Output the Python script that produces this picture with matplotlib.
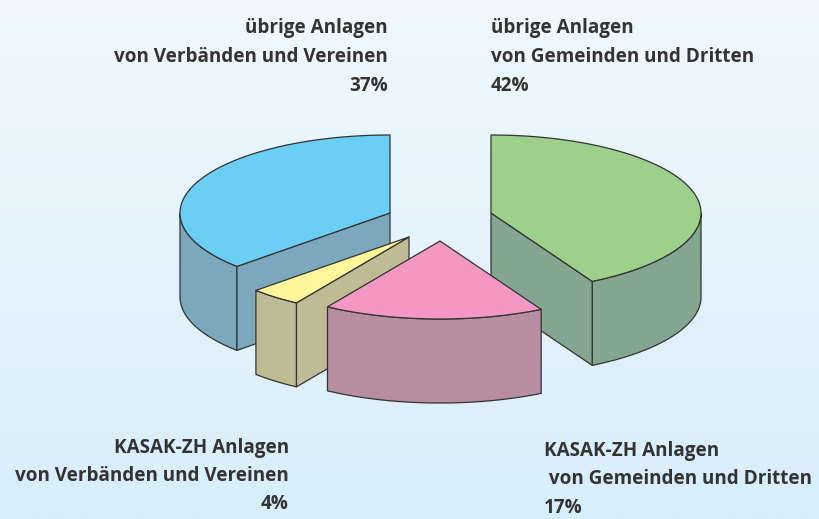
import numpy as np
import matplotlib.pyplot as plt
from matplotlib.patches import Polygon
from matplotlib.colors import LinearSegmentedColormap

# slices clockwise from 12 o'clock
names = ["übrige Anlagen\nvon Gemeinden und Dritten",
         "KASAK-ZH Anlagen\n von Gemeinden und Dritten",
         "KASAK-ZH Anlagen\nvon Verbänden und Vereinen",
         "übrige Anlagen\nvon Verbänden und Vereinen"]
shares = [42, 17, 4, 37]

top_cols = ["#9dd18b", "#f497c2", "#fff59b", "#6acef5"]
side_cols = ["#84a690", "#b78da0", "#bfbb94", "#7ba8bd"]
offsets = [(51, 0), (0, 28), (-31, 24), (-50, 0)]

# label placement: x, first baseline, alignment
lab_pos = [(491, 33, "left"), (544, 456, "left"), (289, 453, "right"), (388, 33, "right")]
lab_gap = [29, 28.5, 28, 29]

cx0, cy0 = 440, 213
a, b, depth = 210, 78, 84
edge = "#333333"

fig = plt.figure(figsize=(8.2, 5.19), dpi=100)
ax = fig.add_axes([0, 0, 1, 1])
ax.set_xlim(0, 820)
ax.set_ylim(519, 0)
ax.axis("off")

bg = LinearSegmentedColormap.from_list("bg", ["#f0f8fe", "#d8eefb"])
ax.imshow(np.linspace(0, 1, 256).reshape(-1, 1), extent=[0, 820, 519, 0],
          cmap=bg, aspect="auto", zorder=0)


def rim(c, th, dz=0):
    t = np.radians(th)
    return c[0] + a * np.cos(t), c[1] - b * np.sin(t) + dz


def arc(c, lo, hi, dz=0, n=120):
    th = np.linspace(lo, hi, n)
    x, y = rim(c, th, dz)
    return list(zip(x, y))


def add(pts, col, z):
    ax.add_patch(Polygon(pts, closed=True, fc=col, ec=edge, lw=0.9,
                         joinstyle="round", zorder=z))


# angles
wedges = []
start = 90.0
for i, s in enumerate(shares):
    end = start - 360.0 * s / 100
    wedges.append((i, end, start))
    start = end

order = sorted(wedges, key=lambda w: offsets[w[0]][1])
z = 2
for i, lo, hi in order:
    c = (cx0 + offsets[i][0], cy0 + offsets[i][1])
    # outer wall, front half only
    cuts = [lo, hi] + [k * 180.0 for k in range(-4, 4) if lo < k * 180.0 < hi]
    cuts = sorted(cuts)
    for p, q in zip(cuts[:-1], cuts[1:]):
        if np.sin(np.radians((p + q) / 2)) < 0:
            pts = arc(c, p, q) + arc(c, q, p, depth)
            add(pts, side_cols[i], z)
    # radial faces
    for th, nrm in [(lo, lo - 90), (hi, hi + 90)]:
        if np.sin(np.radians(nrm)) < -1e-6:
            r0 = rim(c, th)
            r1 = rim(c, th, depth)
            add([c, r0, r1, (c[0], c[1] + depth)], side_cols[i], z)
    # top
    add([c] + arc(c, lo, hi), top_cols[i], z + 1)
    z += 2

for i, s in enumerate(shares):
    x, y0, ha = lab_pos[i]
    lines = names[i].split("\n") + ["%d%%" % s]
    for k, line in enumerate(lines):
        ax.text(x, y0 + k * lab_gap[i], line, ha=ha, va="baseline",
                fontsize=13.6, fontweight="bold", family="Open Sans",
                color="#333333", zorder=20)

fig.savefig("out.png", dpi=100)
